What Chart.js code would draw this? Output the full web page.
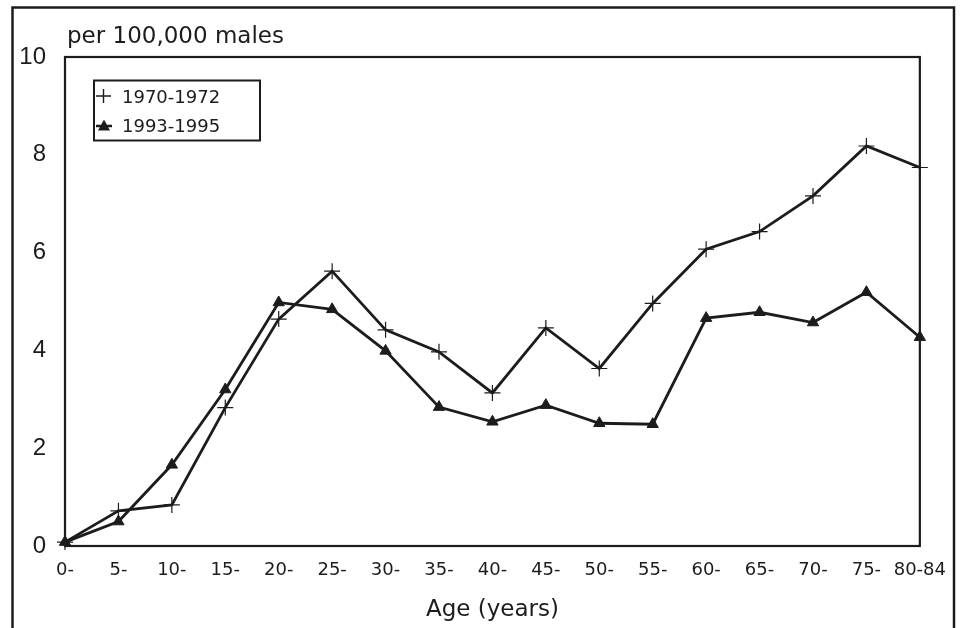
<!DOCTYPE html>
<html>
<head>
<meta charset="utf-8">
<script src="https://cdn.jsdelivr.net/npm/chart.js@4/dist/chart.umd.min.js"></script>
<style>
  html, body { margin: 0; padding: 0; background: #fff; }
  #wrap { position: relative; width: 960px; height: 628px; }
</style>
</head>
<body>
<div id="wrap"><canvas id="rateChart" width="960" height="628"></canvas></div>
<script>
// --- Data ---
const ageGroups = ['0-', '5-', '10-', '15-', '20-', '25-', '30-', '35-', '40-', '45-', '50-', '55-', '60-', '65-', '70-', '75-', '80-84'];
const rate1970 = [0.08, 0.72, 0.84, 2.83, 4.64, 5.62, 4.42, 3.97, 3.13, 4.46, 3.63, 4.96, 6.07, 6.43, 7.16, 8.18, 7.74];
const rate1993 = [0.08, 0.50, 1.66, 3.20, 4.98, 4.84, 3.99, 2.84, 2.54, 2.88, 2.51, 2.49, 4.66, 4.78, 4.57, 5.19, 4.27];
const yTicks = [0, 2, 4, 6, 8, 10];
const seriesNames = ['1970-1972', '1993-1995'];

const ink = '#1c1c1c';

// frame, inner plot box, unit label and legend drawn on top
const decorations = {
    id: 'decorations',
    beforeDraw(chart) {
        const ctx = chart.ctx;
        ctx.save();
        ctx.fillStyle = '#fff';
        ctx.fillRect(0, 0, chart.width, chart.height);
        ctx.restore();
    },
    afterDraw(chart) {
        const { ctx, chartArea: { left, right, top, bottom } } = chart;
        ctx.save();
        ctx.strokeStyle = ink;
        ctx.lineCap = 'butt';

        // outer frame (open at the bottom)
        ctx.lineWidth = 2.5;
        ctx.beginPath();
        ctx.moveTo(12.5, 640);
        ctx.lineTo(12.5, 7.5);
        ctx.lineTo(954, 7.5);
        ctx.lineTo(954, 640);
        ctx.stroke();

        // plot box
        ctx.lineWidth = 2.2;
        ctx.strokeRect(left, top, right - left, bottom - top);

        // unit label
        ctx.fillStyle = ink;
        ctx.font = '23px "DejaVu Sans"';
        ctx.textAlign = 'left';
        ctx.textBaseline = 'alphabetic';
        ctx.fillText('per 100,000 males', 67, 43);

        // legend box
        ctx.lineWidth = 2;
        ctx.strokeRect(94, 80.5, 166, 60);
        ctx.font = '18px "DejaVu Sans"';
        ctx.fillText(seriesNames[0], 122, 103);
        ctx.fillText(seriesNames[1], 122, 132);

        // legend samples
        ctx.lineWidth = 1.4;
        ctx.beginPath();
        ctx.moveTo(96, 96); ctx.lineTo(111, 96);
        ctx.moveTo(103.5, 89); ctx.lineTo(103.5, 103);
        ctx.stroke();

        ctx.lineWidth = 2.5;
        ctx.beginPath();
        ctx.moveTo(96, 126); ctx.lineTo(112, 126);
        ctx.stroke();
        ctx.beginPath();
        ctx.moveTo(104, 119.5);
        ctx.lineTo(110, 130.5);
        ctx.lineTo(98, 130.5);
        ctx.closePath();
        ctx.fill();
        ctx.restore();
    }
};

const config = {
    type: 'line',
    data: {
        labels: ageGroups,
        datasets: [
            {
                label: seriesNames[0],
                data: rate1970,
                borderColor: ink,
                borderWidth: 2.8,
                pointStyle: 'cross',
                pointRadius: 8,
                pointBorderWidth: 1.2,
                pointBorderColor: ink,
                pointBackgroundColor: ink,
                tension: 0,
                clip: false
            },
            {
                label: seriesNames[1],
                data: rate1993,
                borderColor: ink,
                borderWidth: 2.8,
                pointStyle: 'triangle',
                pointRadius: 6.5,
                pointBorderWidth: 1,
                pointBorderColor: ink,
                pointBackgroundColor: ink,
                tension: 0,
                clip: false
            }
        ]
    },
    options: {
        responsive: false,
        animation: false,
        devicePixelRatio: 1,
        layout: {
            padding: { left: 0, top: 57, right: 38, bottom: 0 }
        },
        plugins: {
            legend: { display: false },
            tooltip: { enabled: false }
        },
        scales: {
            x: {
                offset: false,
                grid: { display: false, drawTicks: false },
                border: { display: false },
                ticks: {
                    autoSkip: false,
                    maxRotation: 0,
                    padding: 14,
                    color: ink,
                    font: { family: 'DejaVu Sans', size: 18 }
                },
                title: {
                    display: true,
                    text: 'Age (years)',
                    color: ink,
                    font: { family: 'DejaVu Sans', size: 23 },
                    padding: { top: 0, bottom: 4 }
                },
                afterFit(scale) { scale.height = 82; }
            },
            y: {
                min: 0,
                max: 10,
                grid: { display: false, drawTicks: false },
                border: { display: false },
                afterBuildTicks(scale) {
                    scale.ticks = yTicks.map(v => ({ value: v }));
                },
                ticks: {
                    padding: 19,
                    color: ink,
                    font: { family: 'Liberation Sans', size: 24 }
                },
                afterFit(scale) { scale.width = 65; }
            }
        }
    },
    plugins: [decorations]
};

new Chart(document.getElementById('rateChart'), config);
</script>
</body>
</html>
